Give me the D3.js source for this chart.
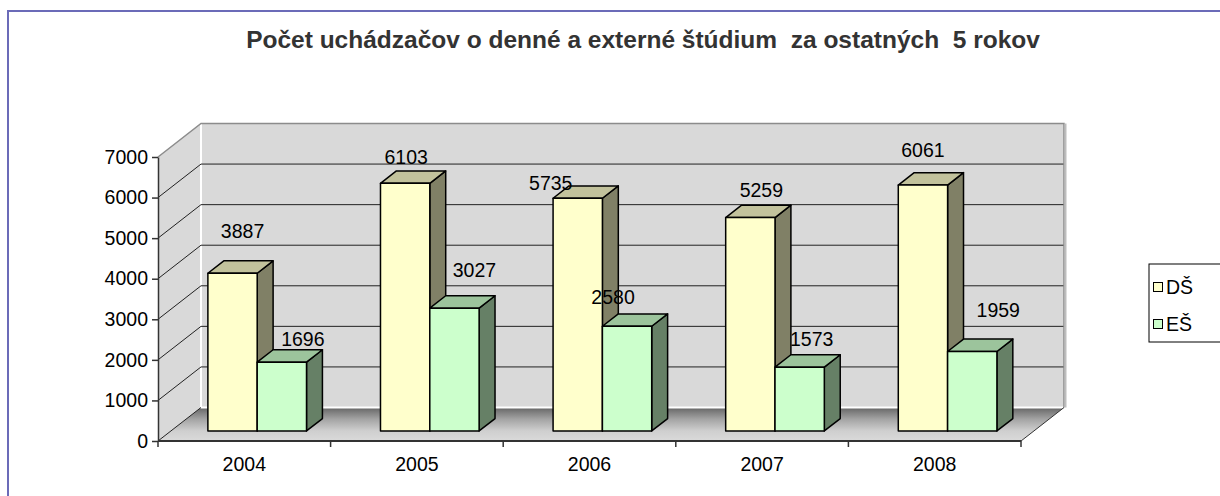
<!DOCTYPE html>
<html>
<head>
<meta charset="utf-8">
<script src="https://cdn.jsdelivr.net/npm/d3@7/dist/d3.min.js"></script>
<style>
  html, body { margin: 0; padding: 0; background: #ffffff; }
  svg { display: block; }
  text { font-family: Arial, "Liberation Sans", sans-serif; }
</style>
</head>
<body>
<svg id="chart" width="1220" height="496"></svg>
<script>
// ---------- data ----------
const years = ["2004", "2005", "2006", "2007", "2008"];
const seriesNames = ["DŠ", "EŠ"];
const dsValues = [3887, 6103, 5735, 5259, 6061];
const esValues = [1696, 3027, 2580, 1573, 1959];
const yTickValues = [0, 1000, 2000, 3000, 4000, 5000, 6000, 7000];
const titleText = "Počet uchádzačov o denné a externé štúdium  za ostatných  5 rokov";

// ---------- layout / style ----------
const plot = { left: 158, right: 1021, bottom: 441, top: 157 };
const depth = { dx: 43, dy: -33.5 };          // full depth of the 3-D box
const barZ = [0.30, 0.67];                    // bar depth inside the box
const gapWidth = 1.5;                         // excel gap width (150 %)
const fontSize = 19.5;
const seriesStyle = [
  { front: "#FFFFCC", top: "#C2C29C", side: "#808066" },
  { front: "#CCFFCC", top: "#9CC49C", side: "#668066" }
];
// per-label nudges (dx, dy) of the value labels, [series][category]
const labelNudge = [
  [[10, -14], [1, 2], [-27, 13], [11, 0], [0, -7]],
  [[21, 5], [20, -10], [-14, -1], [12, 0], [26, -13]]
];

const svg = d3.select("#chart");

const x = d3.scaleBand().domain(years).range([plot.left, plot.right]).padding(0);
const y = d3.scaleLinear().domain([0, 7000]).range([plot.bottom, plot.top]);
const yMax = y.domain()[1];

const proj = (xf, yf, z) => [xf + depth.dx * z, yf + depth.dy * z];
const poly = pts => pts.map(p => p.join(",")).join(" ");

// outer frame
svg.append("rect")
  .attr("x", 8).attr("y", 11).attr("width", 1240).attr("height", 520)
  .attr("fill", "none").attr("stroke", "#6B6BB8").attr("stroke-width", 2);

// title
svg.append("text")
  .attr("x", 643).attr("y", 48)
  .attr("text-anchor", "middle")
  .attr("font-size", 24.5).attr("font-weight", "bold")
  .attr("fill", "#333333")
  .style("white-space", "pre")
  .text(titleText);

// floor gradient
const defs = svg.append("defs");
const grad = defs.append("linearGradient").attr("id", "floorGrad")
  .attr("x1", 0).attr("y1", 0).attr("x2", 0).attr("y2", 1);
[[0, "#666666"], [0.35, "#a4a4a4"], [0.7, "#cfcfcf"], [1, "#dadada"]].forEach(s =>
  grad.append("stop").attr("offset", s[0]).attr("stop-color", s[1]));

const X0 = plot.left, X1 = plot.right, Y0 = y(0), YT = y(yMax);
const walls = svg.append("g");

// back wall
walls.append("polygon")
  .attr("points", poly([proj(X0, YT, 1), proj(X1, YT, 1), proj(X1, Y0, 1), proj(X0, Y0, 1)]))
  .attr("fill", "#D9D9D9");
// side wall
walls.append("polygon")
  .attr("points", poly([proj(X0, Y0, 0), proj(X0, YT, 0), proj(X0, YT, 1), proj(X0, Y0, 1)]))
  .attr("fill", "#D9D9D9");
// floor
walls.append("polygon")
  .attr("points", poly([proj(X0, Y0, 0), proj(X1, Y0, 0), proj(X1, Y0, 1), proj(X0, Y0, 1)]))
  .attr("fill", "url(#floorGrad)");

// back-wall inner highlight (white) along left and bottom
walls.append("polyline")
  .attr("points", poly([proj(X0, YT, 1), proj(X0, Y0, 1), proj(X1, Y0, 1)]))
  .attr("fill", "none").attr("stroke", "#ffffff").attr("stroke-width", 2);

// gridlines on the back wall and on the side wall
const gridVals = yTickValues.filter(v => v > 0 && v < yMax);
walls.selectAll(".gridBack").data(gridVals).enter().append("line")
  .attr("x1", d => proj(X0, y(d), 1)[0]).attr("y1", d => proj(X0, y(d), 1)[1])
  .attr("x2", d => proj(X1, y(d), 1)[0]).attr("y2", d => proj(X1, y(d), 1)[1])
  .attr("stroke", "#222").attr("stroke-width", 1);
walls.selectAll(".gridSide").data(yTickValues.filter(v => v < yMax)).enter().append("line")
  .attr("x1", d => proj(X0, y(d), 0)[0]).attr("y1", d => proj(X0, y(d), 0)[1])
  .attr("x2", d => proj(X0, y(d), 1)[0]).attr("y2", d => proj(X0, y(d), 1)[1])
  .attr("stroke", "#222").attr("stroke-width", 1);

// box outline (grey) top and right
walls.append("polyline")
  .attr("points", poly([proj(X0, YT, 0), proj(X0, YT, 1), proj(X1, YT, 1), proj(X1, Y0, 1)]))
  .attr("fill", "none").attr("stroke", "#8c8c8c").attr("stroke-width", 1.5);
walls.append("line")
  .attr("x1", proj(X1, YT, 1)[0] + 1.5).attr("y1", proj(X1, YT, 1)[1])
  .attr("x2", proj(X1, Y0, 1)[0] + 1.5).attr("y2", proj(X1, Y0, 1)[1])
  .attr("stroke", "#bdbdbd").attr("stroke-width", 2);
// floor right edge
walls.append("line")
  .attr("x1", proj(X1, Y0, 0)[0]).attr("y1", proj(X1, Y0, 0)[1])
  .attr("x2", proj(X1, Y0, 1)[0]).attr("y2", proj(X1, Y0, 1)[1])
  .attr("stroke", "#333").attr("stroke-width", 1);

// ---------- bars ----------
const allSeries = [dsValues, esValues];
const barW = x.bandwidth() / (2 + gapWidth);
const barsG = svg.append("g");
const barData = [];
years.forEach((yr, ci) => {
  allSeries.forEach((vals, si) => {
    barData.push({ yr, ci, si, v: vals[ci] });
  });
});
barData.forEach(d => {
  const xs = x(d.yr) + barW * gapWidth / 2 + d.si * barW;
  const xe = xs + barW;
  const yv = y(d.v);
  const st = seriesStyle[d.si];
  const g = barsG.append("g");
  const common = s => s.attr("stroke", "#000").attr("stroke-width", 1.5).attr("stroke-linejoin", "round");
  common(g.append("polygon")
    .attr("points", poly([proj(xe, yv, barZ[0]), proj(xe, yv, barZ[1]), proj(xe, Y0, barZ[1]), proj(xe, Y0, barZ[0])]))
    .attr("fill", st.side));
  common(g.append("polygon")
    .attr("points", poly([proj(xs, yv, barZ[0]), proj(xe, yv, barZ[0]), proj(xe, yv, barZ[1]), proj(xs, yv, barZ[1])]))
    .attr("fill", st.top));
  common(g.append("polygon")
    .attr("points", poly([proj(xs, yv, barZ[0]), proj(xe, yv, barZ[0]), proj(xe, Y0, barZ[0]), proj(xs, Y0, barZ[0])]))
    .attr("fill", st.front));
});

// value labels
barData.forEach(d => {
  const xs = x(d.yr) + barW * gapWidth / 2 + d.si * barW;
  const p = proj(xs + barW / 2, y(d.v), barZ[0]);
  const n = labelNudge[d.si][d.ci];
  svg.append("text")
    .attr("x", p[0] + n[0]).attr("y", p[1] - 28 + n[1])
    .attr("text-anchor", "middle").attr("dominant-baseline", "central")
    .attr("font-size", fontSize).attr("fill", "#000")
    .text(d.v);
});

// ---------- axes ----------
const yAxis = d3.axisLeft(y).tickValues(yTickValues).tickFormat(d3.format("d"))
  .tickSize(6).tickSizeOuter(0).tickPadding(4);
const gy = svg.append("g").attr("transform", `translate(${plot.left},0)`).call(yAxis);
gy.select(".domain").attr("stroke", "#333").attr("stroke-width", 1.5);
gy.selectAll(".tick line").attr("stroke", "#333").attr("stroke-width", 1.5);
gy.selectAll(".tick text").attr("font-size", fontSize).attr("fill", "#000")
  .attr("font-family", "Arial, 'Liberation Sans', sans-serif");

const xAxis = d3.axisBottom(x).tickSize(0).tickPadding(16);
const gx = svg.append("g").attr("transform", `translate(0,${plot.bottom})`).call(xAxis);
gx.select(".domain").remove();
gx.selectAll(".tick text").attr("font-size", fontSize).attr("fill", "#000")
  .attr("font-family", "Arial, 'Liberation Sans', sans-serif");
svg.append("line")
  .attr("x1", plot.left).attr("x2", plot.right).attr("y1", Y0).attr("y2", Y0)
  .attr("stroke", "#333").attr("stroke-width", 2);
const boundaries = years.map(yr => x(yr)).concat([x(years[years.length - 1]) + x.bandwidth()]);
svg.selectAll(".xtick").data(boundaries).enter().append("line")
  .attr("x1", d => d).attr("x2", d => d).attr("y1", Y0).attr("y2", Y0 + 6)
  .attr("stroke", "#333").attr("stroke-width", 1.5);

// ---------- legend ----------
const lg = svg.append("g").attr("transform", "translate(1149,264)");
lg.append("rect").attr("x", 0).attr("y", 0).attr("width", 120).attr("height", 78)
  .attr("fill", "#fff").attr("stroke", "#000").attr("stroke-width", 1);
seriesNames.forEach((name, i) => {
  const cy = 23 + i * 37;
  lg.append("rect").attr("x", 4.5).attr("y", cy - 4.5).attr("width", 9).attr("height", 9)
    .attr("fill", seriesStyle[i].front).attr("stroke", "#000").attr("stroke-width", 1);
  lg.append("text").attr("x", 17).attr("y", cy).attr("dominant-baseline", "central")
    .attr("font-size", fontSize).attr("fill", "#000").text(name);
});
</script>
</body>
</html>
